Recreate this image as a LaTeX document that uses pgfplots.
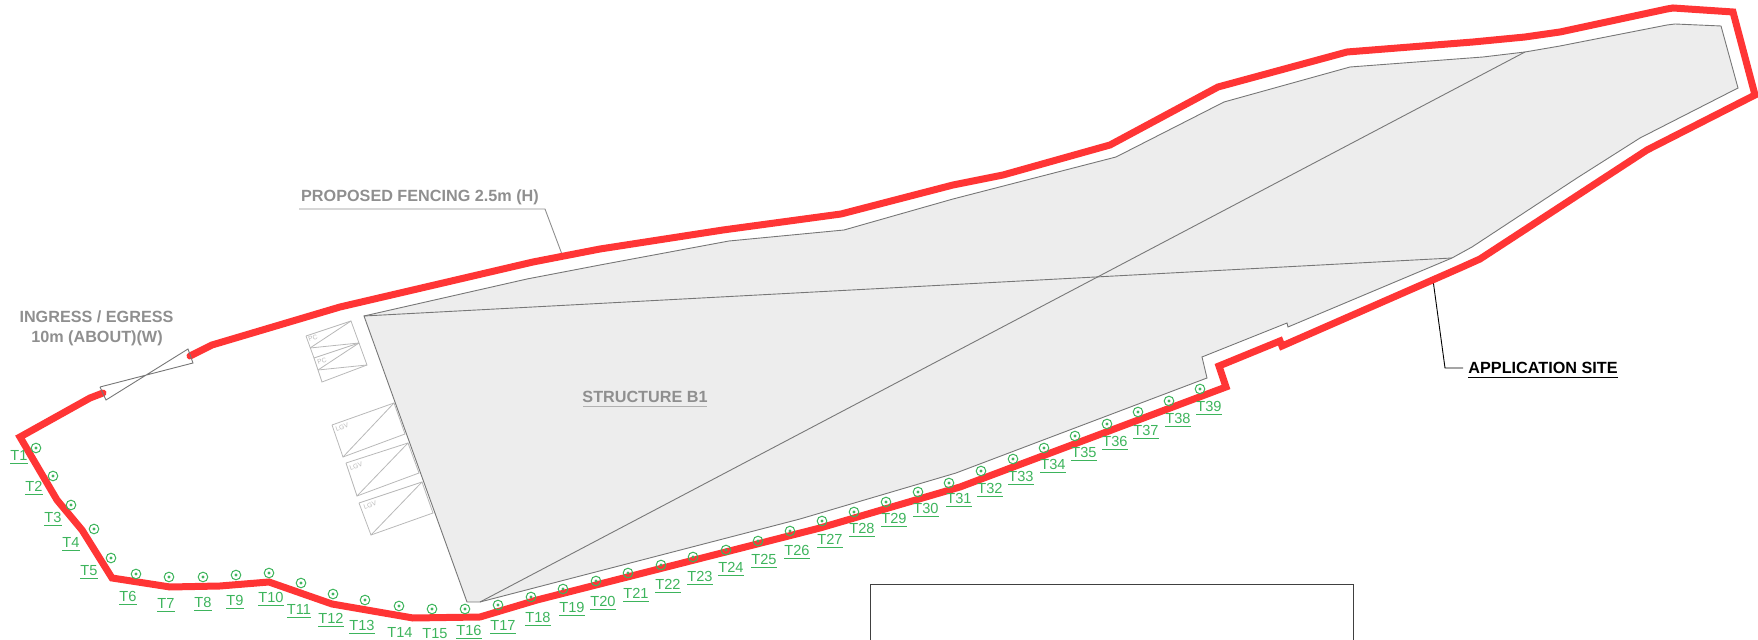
\documentclass[border=0pt]{standalone}
\usepackage{fontspec}
\setmainfont{Liberation Sans}
\usepackage{pgfplots}
\usepackage{pgfplotstable}
\pgfplotsset{compat=1.18}

\definecolor{siteRed}{HTML}{FF3535}
\definecolor{treeGreen}{HTML}{3DB45C}
\definecolor{planGray}{HTML}{777777}
\definecolor{bayGray}{HTML}{B8B8B8}
\definecolor{noteGray}{HTML}{8F8F8F}
\definecolor{buildFill}{HTML}{EDEDED}

\tikzset{
  note/.style={font=\fontsize{8.1}{9}\selectfont\bfseries, text=noteGray, anchor=base, inner sep=0pt},
  bay/.style={draw=bayGray, line width=.4pt},
  baytext/.style={font=\fontsize{3.3}{4}\selectfont, text=bayGray, rotate=20, inner sep=0pt},
}

% tree positions, px of the drawing
\pgfplotstableread{
x y
36 448
53 476
71 505
94 529
111 558
136 574
169 577
203 577
236 575
269 573
301 583
333 594
365 600
399 606
432 609
465 609
498 605
531 597
563 589
596 581
628 573
661 565
693 557
726 550
758 541
790 531
822 521
854 512
886 502
918 492
949 483
981 471
1013 459
1044 448
1075 436
1107 424
1138 412
1169 401
1200 389
}\trees

% tree labels: baseline position and name
\pgfplotstableread{
x y name
19 459 T1
34 490 T2
53 521 T3
71 546 T4
89 574 T5
128 600 T6
166 607 T7
203 606 T8
235 604 T9
271 601 T10
299 613 T11
331 622 T12
362 629 T13
400 636 T14
435 637 T15
469 634 T16
503 629 T17
538 621 T18
572 611 T19
603 605 T20
636 597 T21
668 588 T22
700 580 T23
731 571 T24
764 563 T25
797 554 T26
830 543 T27
862 532 T28
894 522 T29
926 512 T30
959 502 T31
990 492 T32
1021 480 T33
1053 468 T34
1084 456 T35
1115 445 T36
1146 434 T37
1178 422 T38
1209 410 T39
}\treelabels

\begin{document}
\begin{tikzpicture}
% hide axis leaves the frame out of the bounding box
\useasboundingbox (0,0) rectangle (879pt,320pt);
\begin{axis}[
  at={(0,0)}, anchor=south west,
  hide axis,
  scale only axis,
  width=879pt, height=320pt,
  xmin=0, xmax=1758,
  ymin=0, ymax=640,
  y dir=reverse,
  clip mode=individual,
]
% building outline
\addplot[fill=buildFill, draw=planGray, line width=.45pt] coordinates {
  (364,316) (527,279) (600,265) (729,241) (844,230) (953,199) (1116,157) (1224,102)
  (1350,67) (1483,57) (1525,52) (1560,46) (1667,25) (1675,24) (1721,26) (1738,88)
  (1640,138) (1577,178) (1472,247) (1452,258) (1288,327) (1287,323) (1202,357)
  (1207,378) (956,473) (800,519) (480,602) (467,602)
} --cycle;
\addplot[draw=planGray, line width=.45pt] coordinates {(364,316) (1452,258)};
\addplot[draw=planGray, line width=.45pt] coordinates {(480,602) (1525,52)};

% parking bays
\addplot[bay] coordinates {(306,336) (351,321) (359,343) (314,358) (306,336)};
\addplot[bay] coordinates {(310,348) (351,321)};
\addplot[bay] coordinates {(310,348) (359,343)};
\addplot[bay] coordinates {(314,358) (322,382) (367,365) (359,343)};
\addplot[bay] coordinates {(318,370) (359,343)};
\addplot[bay] coordinates {(318,370) (367,365)};
\addplot[bay] coordinates {(332,425) (394,403) (405,434) (343,457) (332,425)};
\addplot[bay] coordinates {(343,457) (394,403)};
\addplot[bay] coordinates {(346,463) (408,443) (419,473) (357,496) (346,463)};
\addplot[bay] coordinates {(357,496) (408,443)};
\addplot[bay] coordinates {(359,503) (422,482) (433,513) (371,535) (359,503)};
\addplot[bay] coordinates {(371,535) (422,482)};
\node[baytext] at (axis cs:313,338) {PC};
\node[baytext] at (axis cs:322,361) {PC};
\node[baytext] at (axis cs:342,427) {LGV};
\node[baytext] at (axis cs:356,466) {LGV};
\node[baytext] at (axis cs:370,505) {LGV};

% leaders and the box at the bottom
\addplot[draw=noteGray, line width=.45pt] coordinates {(299,209) (545,209) (563,257)};
\addplot[draw=black, line width=.45pt] coordinates {(1433,280) (1445,368) (1463,368)};
\addplot[draw=black!75, line width=.5pt] coordinates {(870,640) (870,585) (1353,585) (1353,640)};

% application site boundary
\addplot[draw=siteRed, line width=3.5pt, line cap=round, miter limit=10] coordinates {
  (103,393) (90,398) (20,437) (57,500) (82,530) (112,578) (170,587) (220,586) (269,582)
  (332,604) (413,618) (480,617) (537,600) (820,528) (960,487) (1226,387) (1219,366)
  (1280,341) (1282,346) (1460,268) (1480,259) (1647,150) (1755,95) (1733,12) (1673,8)
  (1667,9) (1560,32) (1525,37) (1473,42) (1347,52) (1218,87) (1110,145) (1003,175)
  (953,185) (841,214) (723,230) (600,249) (533,262) (340,307) (212,345) (190,356)
};

% gate
\addplot[draw=planGray, line width=.45pt] coordinates {(100,387) (193,363) (188,349) (106,400) (100,387)};

% trees
\addplot[only marks, mark=o, mark size=2.4pt, mark options={draw=treeGreen, line width=.5pt}] table {\trees};
\addplot[only marks, mark=*, mark size=.55pt, mark options={draw=treeGreen, fill=treeGreen}] table {\trees};
\addplot[only marks, mark=none, point meta=explicit symbolic,
  nodes near coords={\underline{\pgfplotspointmeta}},
  nodes near coords style={anchor=base, inner sep=0pt, yshift=-.6pt, text=treeGreen, font=\fontsize{7.3}{8}\selectfont},
] table[x=x, y=y, meta=name] {\treelabels};

% notes
\node[note] at (axis cs:96.5,323) {INGRESS / EGRESS};
\node[note] at (axis cs:97,343) {10m (ABOUT)(W)};
\node[note] at (axis cs:420,202) {PROPOSED FENCING 2.5m (H)};
\node[note] at (axis cs:645,403) {STRUCTURE B1};
\addplot[draw=noteGray!70, line width=.8pt] coordinates {(583,406.5) (707,406.5)};
\node[note, text=black] at (axis cs:1543,374) {APPLICATION SITE};
\addplot[draw=black, line width=.5pt] coordinates {(1468,377.5) (1618,377.5)};
\end{axis}
\end{tikzpicture}
\end{document}
